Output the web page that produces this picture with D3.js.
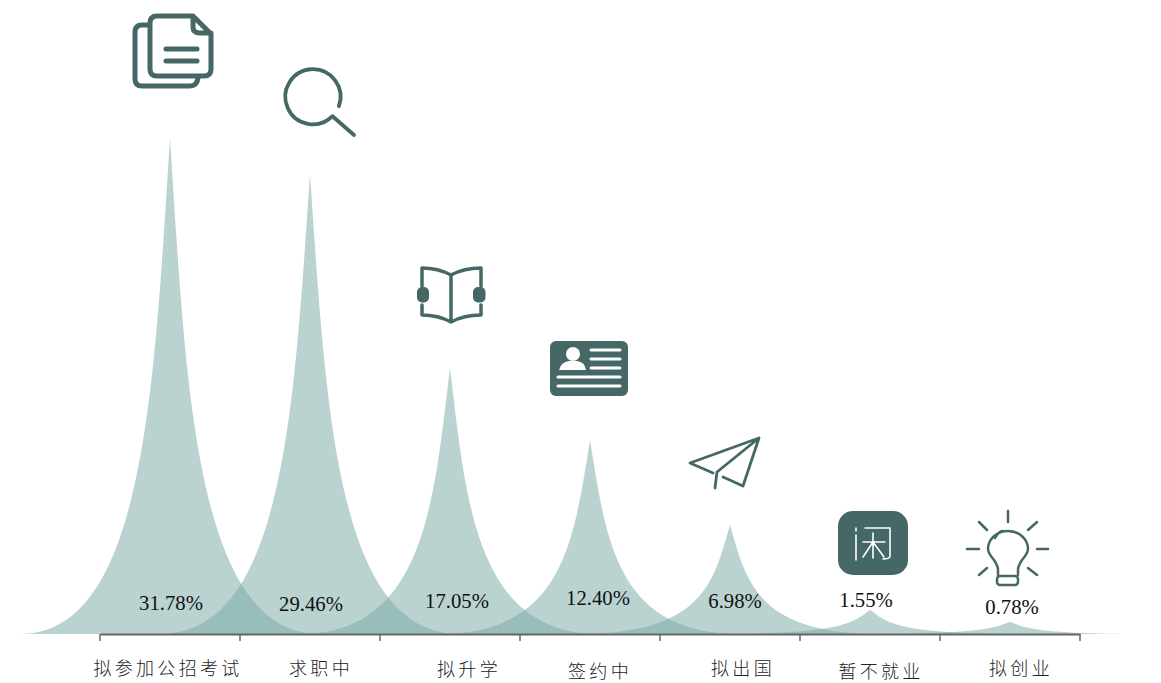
<!DOCTYPE html>
<html>
<head>
<meta charset="utf-8">
<script src="https://cdn.jsdelivr.net/npm/d3@7"></script>
<style>
  html, body { margin: 0; padding: 0; background: #fff; }
  svg { display: block; }
</style>
</head>
<body>
<div id="okvir"></div>
<script>
// data
const categories = ["拟参加公招考试", "求职中", "拟升学", "签约中", "拟出国", "暂不就业", "拟创业"];
const percentages = [31.78, 29.46, 17.05, 12.40, 6.98, 1.55, 0.78];
const iconNames = ["docs", "search", "book", "card", "plane", "xian", "bulb"];

// hand placed labels in the original, offsets from the band centre
const percentDx = [1, 1, 7, 8, 5, -4, 2];
const percentY = [603, 604, 601, 598, 601, 600, 607];
const categoryDx = [-2, 11, 19, 10, 13, 11, 11];
const categoryY = [669, 669, 670, 672, 669, 672, 669];

const width = 1161;
const height = 683;
const baseline = 634;
const iconColor = "#456866";

const svg = d3.select("#okvir").append("svg")
    .attr("width", width)
    .attr("height", height);

const x = d3.scaleBand().domain(categories).range([100, 1080]).padding(0);
const y = d3.scaleLinear().domain([0, 32]).range([baseline, baseline - 15.6 * 32]);
const spread = x.step() * 15 / 14; // how far each peak's foot reaches

// peaks
svg.append("g")
    .selectAll("path")
    .data(categories)
    .join("path")
    .attr("d", (d, i) => {
        const cx = x(d) + x.bandwidth() / 2;
        const top = y(percentages[i]);
        const mid = (top + y(0)) / 2;
        const p = d3.path();
        p.moveTo(cx - spread, y(0));
        p.bezierCurveTo(cx - spread / 6, y(0), cx - spread * 0.107, mid, cx, top);
        p.bezierCurveTo(cx + spread * 0.107, mid, cx + spread / 6, y(0), cx + spread, y(0));
        p.closePath();
        return p.toString();
    })
    .attr("fill", "#76a8a4")
    .attr("fill-opacity", 0.5);

// axis: labels from d3, ticks sit on band edges so they are added by hand
const axis = svg.append("g")
    .attr("transform", "translate(0," + baseline + ")")
    .call(d3.axisBottom(x).tickSize(0).tickPadding(0));
axis.select(".domain").attr("stroke", "#666").attr("stroke-width", 2);
axis.selectAll(".tick text")
    .attr("transform", (d, i) => "translate(" + categoryDx[i] + "," + (categoryY[i] - baseline) + ")")
    .attr("y", 0)
    .attr("dy", "0.35em")
    .style("font-family", "'Noto Sans CJK SC', sans-serif")
    .style("font-weight", 300)
    .style("font-size", "18px")
    .style("letter-spacing", "3.3px")
    .attr("fill", "#222");
axis.selectAll(".edge")
    .data(categories.map(d => x(d)).concat(x.range()[1]))
    .join("line")
    .attr("class", "edge")
    .attr("x1", d => d).attr("x2", d => d)
    .attr("y1", 0).attr("y2", 7)
    .attr("stroke", "#666")
    .attr("stroke-width", 1.5);

// percent labels
svg.append("g")
    .selectAll("text")
    .data(percentages)
    .join("text")
    .text(d => d.toFixed(2) + "%")
    .attr("x", (d, i) => x(categories[i]) + x.bandwidth() / 2 + percentDx[i])
    .attr("y", (d, i) => percentY[i])
    .attr("dy", "0.35em")
    .attr("text-anchor", "middle")
    .style("font-family", "'Liberation Serif', serif")
    .style("font-size", "20.7px")
    .attr("fill", "#111");

// icons, x relative to the peak, y is page y
const icons = {
    docs: g => {
        g.append("path").attr("d", "M23,16 L-13,16 Q-20,16 -20,23 L-20,69 Q-20,76 -13,76 L34,76 Q41,76 41,69 L41,34 Z M23,16 L23,27 Q23,33 30,33 L41,33 M-21,25 L-28,25 Q-35,25 -35,32 L-35,79 Q-35,86 -28,86 L20,86 Q27,86 28,78 M-4,49 L27,49 M-4,61 L27,61")
            .call(line, 5);
    },
    search: g => {
        g.append("path").attr("d", "M28.9,106.1 A27.6,27.6 0 1 0 22.5,116.2 L44,135").call(line, 3.8);
    },
    book: g => {
        g.append("path").attr("d", "M-28,286 L-28,268 Q-12,268 1,275 Q14,268 31,268 L31,286 M-28,305 L-28,315 Q-12,315 1,322 Q14,315 31,315 L31,305 M1,275 L1,322")
            .call(line, 3.5);
        g.append("rect").attr("x", -33).attr("y", 287).attr("width", 12).attr("height", 15.5).attr("rx", 5).attr("fill", iconColor);
        g.append("rect").attr("x", 23).attr("y", 287).attr("width", 12.5).attr("height", 15.5).attr("rx", 5).attr("fill", iconColor);
    },
    card: g => {
        g.append("rect").attr("x", -40).attr("y", 341).attr("width", 78).attr("height", 55).attr("rx", 6).attr("fill", iconColor);
        g.append("circle").attr("cx", -17).attr("cy", 354).attr("r", 7).attr("fill", "#fff");
        g.append("path").attr("d", "M-31,370 Q-29,362 -21,361 L-13,361 Q-5,362 -4,370 Z").attr("fill", "#fff");
        g.append("path").attr("d", "M1,350 L30,350 M1,359 L30,359 M1,368 L30,368 M-32,377 L30,377 M-32,386 L30,386")
            .call(line, 3).attr("stroke", "#fff");
    },
    plane: g => {
        g.append("path").attr("d", "M29,438 L-40,463 L-17,473 M-13,472 L29,438 L13,486 L-7,477 M-13,472 L-15,488")
            .call(line, 2.8);
    },
    xian: g => {
        g.append("rect").attr("x", -32).attr("y", 511).attr("width", 70).attr("height", 64).attr("rx", 15).attr("fill", iconColor);
        g.append("path").attr("d", "M-14,528 L-14,531 M-14,535 L-14,560 M-5,528 L20,528 L20,556 Q20,559 13,559 M-7,542 L15,542 M3,533 L3,558 M3,542 L-7,557 M3,542 L14,557")
            .call(line, 1.6).attr("stroke", "#fff");
    },
    bulb: g => {
        g.append("path").attr("d", "M-12,575 L-12,570 Q-12,566 -16,560 Q-22,553 -22,549 A20,18 0 1 1 18,549 Q18,553 12,560 Q8,566 8,570 L8,575 M-15,538 Q-12,532 -8,531")
            .call(line, 2.5);
        g.append("rect").attr("x", -13).attr("y", 576).attr("width", 21).attr("height", 9).attr("rx", 3)
            .attr("fill", "none").attr("stroke", iconColor).attr("stroke-width", 2.5);
        g.append("path").attr("d", "M-2,511 L-2,522 M-43,549 L-31,549 M27,549 L38,549 M-31,522 L-23,530 M27,522 L18,530 M-31,575 L-23,568 M27,575 L18,568")
            .call(line, 2.5);
    }
};

function line(sel, w) {
    sel.attr("fill", "none")
        .attr("stroke", iconColor)
        .attr("stroke-width", w)
        .attr("stroke-linecap", "round")
        .attr("stroke-linejoin", "round");
}

iconNames.forEach((name, i) => {
    const g = svg.append("g")
        .attr("transform", "translate(" + (x(categories[i]) + x.bandwidth() / 2) + ",0)");
    icons[name](g);
});
</script>
</body>
</html>
